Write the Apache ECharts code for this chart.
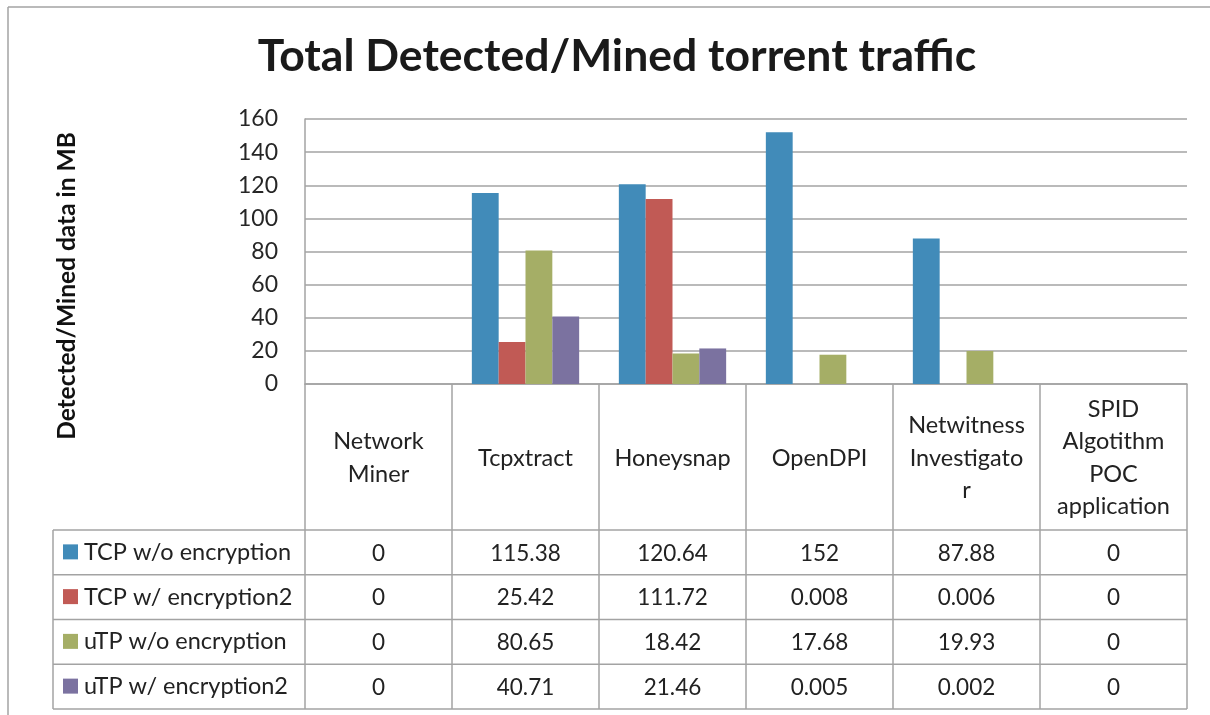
<!DOCTYPE html>
<html>
<head>
<meta charset="utf-8">
<title>Total Detected/Mined torrent traffic</title>
<script src="https://cdn.jsdelivr.net/npm/echarts@6/dist/echarts.min.js"></script>
<style>
  html, body { margin: 0; padding: 0; background: #fff; }
  #chart { width: 1210px; height: 715px; }
</style>
</head>
<body>
<div id="chart"></div>
<script>
// data
const categories = ['Network\nMiner', 'Tcpxtract', 'Honeysnap', 'OpenDPI', 'Netwitness\nInvestigato\nr', 'SPID\nAlgotithm\nPOC\napplication']
const seriesNames = ['TCP w/o encryption', 'TCP w/ encryption2', 'uTP w/o encryption', 'uTP w/ encryption2']
const tcpPlain = [0, 115.38, 120.64, 152, 87.88, 0]
const tcpEnc = [0, 25.42, 111.72, 0.008, 0.006, 0]
const utpPlain = [0, 80.65, 18.42, 17.68, 19.93, 0]
const utpEnc = [0, 40.71, 21.46, 0.005, 0.002, 0]
const yTicks = [0, 20, 40, 60, 80, 100, 120, 140, 160]

const colors = ['#418BB9', '#C15A55', '#A5AE66', '#7B72A0']
const lineColor = '#a3a3a3'
const font = 'Lato'
const cellFont = '22.5px ' + font
const labelFont = '23.5px ' + font

// layout of plot + data table
const plotLeft = 305
const plotRight = 1187
const plotTop = 119
const axisY = 384
const headBottom = 530
const rowH = 44.75
const legendLeft = 53
const colW = (plotRight - plotLeft) / categories.length

const rows = [tcpPlain, tcpEnc, utpPlain, utpEnc]

function hLine (x1, x2, y) {
  return { type: 'line', silent: true, shape: { x1: x1, y1: y, x2: x2, y2: y }, style: { stroke: lineColor, lineWidth: 1.5 } }
}
function vLine (x, y1, y2) {
  return { type: 'line', silent: true, shape: { x1: x, y1: y1, x2: x, y2: y2 }, style: { stroke: lineColor, lineWidth: 1.5 } }
}

const tableEls = []
const tableBottom = headBottom + rowH * rows.length
// outer chart border
tableEls.push(vLine(8, 7, 715))
tableEls.push(hLine(8, 1210, 7))
// column separators
for (let i = 0; i <= categories.length; i++) {
  tableEls.push(vLine(plotLeft + i * colW, axisY, tableBottom))
}
tableEls.push(vLine(legendLeft, headBottom, tableBottom))
for (let r = 0; r <= rows.length; r++) {
  tableEls.push(hLine(legendLeft, plotRight, headBottom + r * rowH))
}
// header cells
categories.forEach((c, i) => {
  tableEls.push({
    type: 'text', silent: true,
    x: plotLeft + (i + 0.5) * colW, y: (axisY + headBottom) / 2 + 1,
    style: { text: c, fill: '#222', font: labelFont, align: 'center', verticalAlign: 'middle', lineHeight: 32.5 }
  })
})
// data rows with legend keys
rows.forEach((vals, r) => {
  const cy = headBottom + (r + 0.5) * rowH
  tableEls.push({ type: 'rect', silent: true, shape: { x: 63, y: cy - 8, width: 15, height: 15 }, style: { fill: colors[r] } })
  tableEls.push({
    type: 'text', silent: true, x: 84, y: cy,
    style: { text: seriesNames[r], fill: '#222', font: labelFont, align: 'left', verticalAlign: 'middle' }
  })
  vals.forEach((v, i) => {
    tableEls.push({
      type: 'text', silent: true, x: plotLeft + (i + 0.5) * colW, y: cy + 1,
      style: { text: String(v), fill: '#222', font: cellFont, align: 'center', verticalAlign: 'middle' }
    })
  })
})
// rotated axis title
tableEls.push({
  type: 'text', silent: true, x: 67, y: 286, rotation: Math.PI / 2,
  style: { text: 'Detected/Mined data in MB', fill: '#111', font: 'bold 24.5px ' + font, align: 'center', verticalAlign: 'middle' }
})

const option = {
  backgroundColor: '#fff',
  animation: false,
  title: {
    text: 'Total Detected/Mined torrent traffic',
    left: 612,
    top: 29,
    textAlign: 'center',
    textStyle: { fontFamily: font, fontWeight: 'bold', fontSize: 44.5, color: '#1a1a1a' }
  },
  grid: { left: plotLeft, right: 1210 - plotRight, top: plotTop, bottom: 715 - axisY },
  xAxis: {
    type: 'category',
    data: categories,
    axisLabel: { show: false },
    axisTick: { show: false },
    axisLine: { lineStyle: { color: lineColor, width: 1.5 } }
  },
  yAxis: {
    type: 'value',
    min: yTicks[0],
    max: yTicks[yTicks.length - 1],
    interval: yTicks[1] - yTicks[0],
    axisLine: { show: true, lineStyle: { color: lineColor, width: 1.5 } },
    axisTick: { show: false },
    axisLabel: { margin: 27, fontSize: 23, fontFamily: font, color: '#262626' },
    splitLine: { lineStyle: { color: lineColor, width: 1.5 } }
  },
  series: rows.map((vals, r) => ({
    name: seriesNames[r],
    type: 'bar',
    data: vals,
    barGap: 0,
    barCategoryGap: '27%',
    itemStyle: { color: colors[r] }
  })),
  graphic: tableEls
}

const chart = echarts.init(document.getElementById('chart'))
chart.setOption(option)
</script>
</body>
</html>
